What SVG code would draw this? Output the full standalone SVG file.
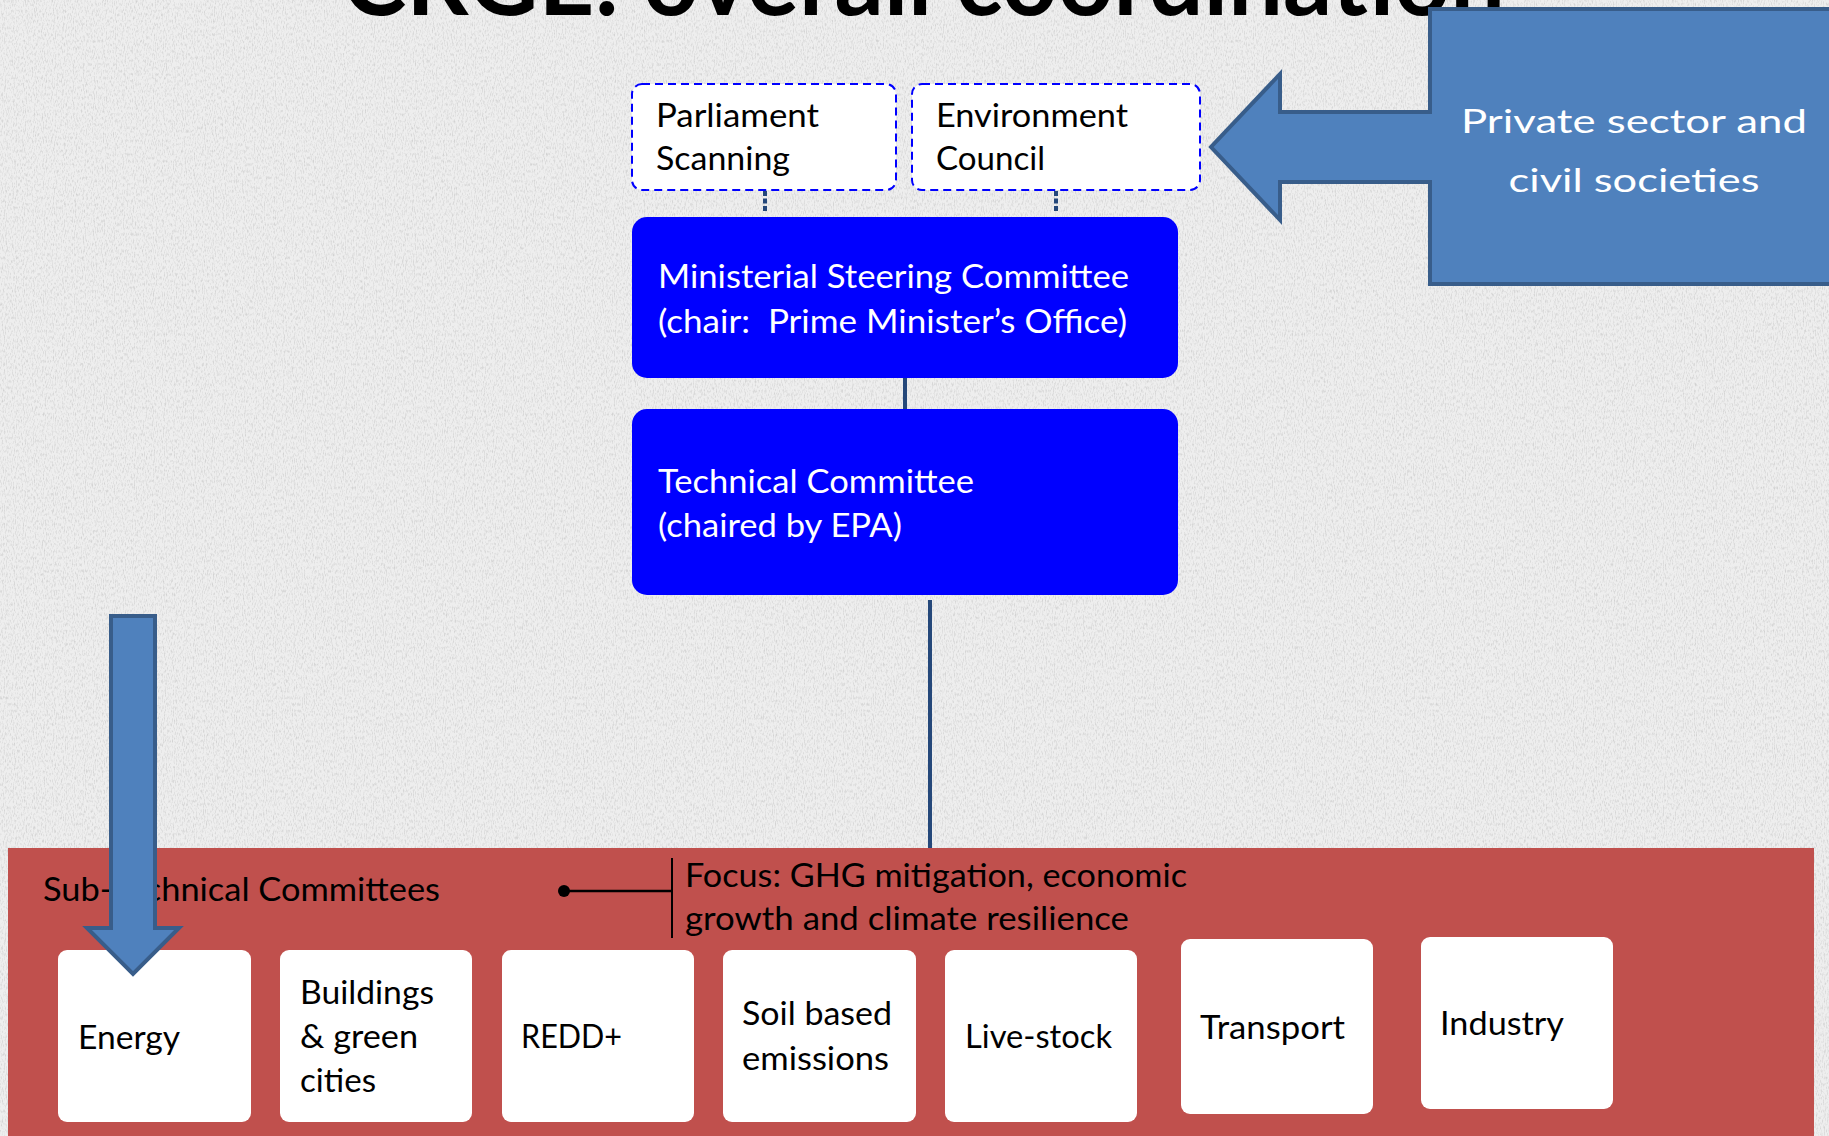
<svg xmlns="http://www.w3.org/2000/svg" width="1829" height="1136" viewBox="0 0 1829 1136">
  <defs>
    <filter id="paper" x="0" y="0" width="100%" height="100%">
      <feTurbulence type="fractalNoise" baseFrequency="0.9 0.3" numOctaves="2" seed="7" result="n"/>
      <feColorMatrix in="n" type="matrix" values="0 0 0 0 0.5  0 0 0 0 0.5  0 0 0 0 0.5  0 0 0 -2.4 1.3"/>
    </filter>
    <style>
      .t { font-family: Lato, "Liberation Sans", sans-serif; white-space: pre; }
      .blk { fill: #000000; font-size: 32px; }
      .wht { fill: #FFFFFF; font-size: 33px; }
      .dash { fill: #FFFFFF; stroke: #0000FF; stroke-width: 2; stroke-dasharray: 8 5; }
      .blue { fill: #0000FF; }
      .card { fill: #FFFFFF; }
      .conn { stroke: #25487A; stroke-width: 4; fill: none; }
      .blockarrow { fill: #4F81BD; stroke: #385D8A; stroke-width: 4; stroke-linejoin: miter; }
    </style>
  </defs>

  <!-- background paper -->
  <rect x="0" y="0" width="1829" height="1136" fill="#EEEEEE"/>
  <rect x="0" y="0" width="1829" height="1136" filter="url(#paper)" opacity="0.55"/>

  <!-- title (cut off at top, as in the picture) -->
  <text class="t" x="342" y="15" font-size="100" font-weight="bold" fill="#000000" textLength="1163" lengthAdjust="spacingAndGlyphs">CRGE: overall coordination</text>

  <!-- red panel -->
  <g id="sub-technical-panel">
    <rect x="8" y="848" width="1806" height="300" fill="#C0504D"/>
    <text class="t blk" x="43" y="901" textLength="397" lengthAdjust="spacingAndGlyphs">Sub-Technical Committees</text>
    <text class="t blk" x="685" y="887" textLength="502" lengthAdjust="spacingAndGlyphs">Focus: GHG mitigation, economic</text>
    <text class="t blk" x="685" y="930" textLength="444" lengthAdjust="spacingAndGlyphs">growth and climate resilience</text>
  </g>

  <!-- connectors -->
  <g id="connectors">
    <line class="conn" x1="765" y1="191" x2="765" y2="211" stroke-dasharray="5 2.5" stroke-width="5"/>
    <line class="conn" x1="1056" y1="191" x2="1056" y2="211" stroke-dasharray="5 2.5" stroke-width="5"/>
    <line class="conn" x1="905" y1="378" x2="905" y2="409"/>
    <line class="conn" x1="930" y1="600" x2="930" y2="848"/>
    <line x1="564" y1="891" x2="672" y2="891" stroke="#000000" stroke-width="2.5"/>
    <circle cx="564" cy="891" r="6" fill="#000000"/>
    <line x1="672" y1="858" x2="672" y2="938" stroke="#000000" stroke-width="2"/>
  </g>

  <g id="parliament-scanning">
    <rect class="dash" x="632" y="84" width="264" height="106" rx="10"/>
    <text class="t blk" x="656" y="127" textLength="163" lengthAdjust="spacingAndGlyphs">Parliament</text>
    <text class="t blk" x="656" y="170" textLength="134" lengthAdjust="spacingAndGlyphs">Scanning</text>
  </g>

  <g id="environment-council">
    <rect class="dash" x="912" y="84" width="288" height="106" rx="10"/>
    <text class="t blk" x="936" y="127" textLength="192" lengthAdjust="spacingAndGlyphs">Environment</text>
    <text class="t blk" x="936" y="170" textLength="109" lengthAdjust="spacingAndGlyphs">Council</text>
  </g>

  <g id="ministerial-steering-committee">
    <rect class="blue" x="632" y="217" width="546" height="161" rx="15"/>
    <text class="t wht" x="658" y="288" textLength="471" lengthAdjust="spacingAndGlyphs">Ministerial Steering Committee</text>
    <text class="t wht" x="658" y="333" textLength="469" lengthAdjust="spacingAndGlyphs">(chair:  Prime Minister’s Office)</text>
  </g>

  <g id="technical-committee">
    <rect class="blue" x="632" y="409" width="546" height="186" rx="15"/>
    <text class="t wht" x="658" y="493" textLength="316" lengthAdjust="spacingAndGlyphs">Technical Committee</text>
    <text class="t wht" x="658" y="537" textLength="244" lengthAdjust="spacingAndGlyphs">(chaired by EPA)</text>
  </g>

  <g id="private-sector">
    <path class="blockarrow" d="M1845,9 L1430,9 L1430,112 L1280,112 L1280,74 L1211,147 L1280,220 L1280,182 L1430,182 L1430,284 L1845,284 Z"/>
    <text class="t wht" x="1634" y="133" font-size="44" text-anchor="middle" textLength="346" lengthAdjust="spacingAndGlyphs">Private sector and</text>
    <text class="t wht" x="1634" y="192" font-size="44" text-anchor="middle" textLength="251" lengthAdjust="spacingAndGlyphs">civil societies</text>
  </g>

  <g id="energy">
    <rect class="card" x="58" y="950" width="193" height="172" rx="9"/>
    <text class="t blk" x="78" y="1049" textLength="102" lengthAdjust="spacingAndGlyphs">Energy</text>
  </g>

  <g id="buildings">
    <rect class="card" x="280" y="950" width="192" height="172" rx="9"/>
    <text class="t blk" x="300" y="1004" textLength="134" lengthAdjust="spacingAndGlyphs">Buildings</text>
    <text class="t blk" x="300" y="1048" textLength="118" lengthAdjust="spacingAndGlyphs">&amp; green</text>
    <text class="t blk" x="300" y="1092" textLength="76" lengthAdjust="spacingAndGlyphs">cities</text>
  </g>

  <g id="redd">
    <rect class="card" x="502" y="950" width="192" height="172" rx="9"/>
    <text class="t blk" x="521" y="1048" textLength="101" lengthAdjust="spacingAndGlyphs">REDD+</text>
  </g>

  <g id="soil">
    <rect class="card" x="723" y="950" width="193" height="172" rx="9"/>
    <text class="t blk" x="742" y="1025" textLength="150" lengthAdjust="spacingAndGlyphs">Soil based</text>
    <text class="t blk" x="742" y="1070" textLength="147" lengthAdjust="spacingAndGlyphs">emissions</text>
  </g>

  <g id="livestock">
    <rect class="card" x="945" y="950" width="192" height="172" rx="9"/>
    <text class="t blk" x="965" y="1048" textLength="147" lengthAdjust="spacingAndGlyphs">Live-stock</text>
  </g>

  <g id="transport">
    <rect class="card" x="1181" y="939" width="192" height="175" rx="9"/>
    <text class="t blk" x="1200" y="1039" textLength="145" lengthAdjust="spacingAndGlyphs">Transport</text>
  </g>

  <g id="industry">
    <rect class="card" x="1421" y="937" width="192" height="172" rx="9"/>
    <text class="t blk" x="1440" y="1035" textLength="124" lengthAdjust="spacingAndGlyphs">Industry</text>
  </g>

  <g id="down-arrow">
    <path class="blockarrow" d="M111,616 L155,616 L155,928 L179,928 L133,974 L87,928 L111,928 Z"/>
  </g>
</svg>
